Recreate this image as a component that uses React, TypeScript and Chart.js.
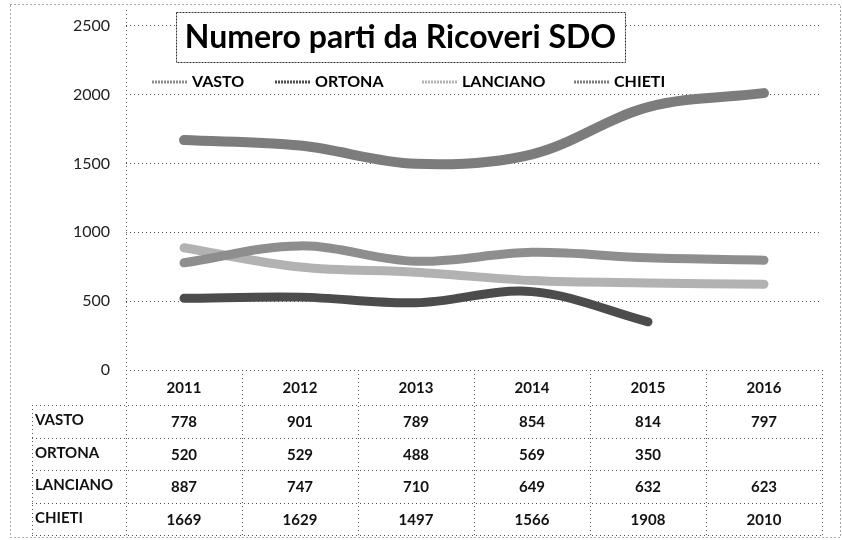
import React, { useEffect, useRef } from "react";
import { Chart, registerables } from "chart.js";

Chart.register(...registerables);

const years = ["2011", "2012", "2013", "2014", "2015", "2016"];
const seriesNames = ["VASTO", "ORTONA", "LANCIANO", "CHIETI"];
const vasto = [778, 901, 789, 854, 814, 797];
const ortona: (number | null)[] = [520, 529, 488, 569, 350, null];
const lanciano = [887, 747, 710, 649, 632, 623];
const chieti = [1669, 1629, 1497, 1566, 1908, 2010];
const yTickValues = [0, 500, 1000, 1500, 2000, 2500];
const titleText = "Numero parti da Ricoveri SDO";
const seriesColors = ["#8e8e8e", "#4c4c4c", "#b2b2b2", "#7c7c7c"];
const seriesWidths = [9, 9, 9, 10];
const legendStarts = [152, 275, 422, 574];

const FONT = "Lato, 'Open Sans', 'DejaVu Sans', sans-serif";

function dotted(ctx: CanvasRenderingContext2D, x1: number, y1: number, x2: number, y2: number, dash = [1, 3], color = "#555") {
  ctx.save();
  ctx.strokeStyle = color;
  ctx.lineWidth = 1;
  ctx.setLineDash(dash);
  ctx.beginPath();
  ctx.moveTo(x1, y1);
  ctx.lineTo(x2, y2);
  ctx.stroke();
  ctx.restore();
}

const decorPlugin = {
  id: "decor",
  afterDraw(chart: any) {
    const ctx: CanvasRenderingContext2D = chart.ctx;
    const area = chart.chartArea;
    const xs = chart.scales.x;
    const n = years.length;
    const colW = (area.right - area.left) / n;

    // axis line (dotted), extending into the table
    dotted(ctx, Math.round(area.left) + 0.5, 10, Math.round(area.left) + 0.5, 536);

    // title box
    const bx = 176, by = 12, bw = 449, bh = 50;
    ctx.save();
    ctx.fillStyle = "#fff";
    ctx.fillRect(bx, by, bw, bh);
    ctx.restore();
    ctx.save();
    ctx.strokeStyle = "#333";
    ctx.lineWidth = 1;
    ctx.setLineDash([2, 1]);
    ctx.strokeRect(bx + 0.5, by + 0.5, bw, bh);
    ctx.restore();
    ctx.save();
    let size = 34;
    ctx.font = `bold ${size}px ${FONT}`;
    while (ctx.measureText(titleText).width > 432 && size > 10) {
      size -= 0.5;
      ctx.font = `bold ${size}px ${FONT}`;
    }
    ctx.fillStyle = "#000";
    ctx.textAlign = "center";
    ctx.textBaseline = "middle";
    ctx.fillText(titleText, bx + bw / 2, by + bh / 2 + 1);
    ctx.restore();

    // legend
    ctx.save();
    ctx.font = `bold 16px ${FONT}`;
    ctx.textBaseline = "middle";
    ctx.textAlign = "left";
    const ly = 82;
    chart.data.datasets.forEach((ds: any, i: number) => {
      const lx = legendStarts[i];
      ctx.save();
      ctx.strokeStyle = ds.borderColor;
      ctx.lineWidth = 3;
      ctx.setLineDash([2, 1]);
      ctx.beginPath();
      ctx.moveTo(lx, ly);
      ctx.lineTo(lx + 36, ly);
      ctx.stroke();
      ctx.restore();
      ctx.fillStyle = "#000";
      ctx.fillText(ds.label, lx + 40, ly);
    });
    ctx.restore();

    // data table
    const top = Math.round(area.bottom);
    const headerH = 35;
    const rowH = 32.5;
    const tableBottom = top + headerH + rowH * seriesNames.length;
    const labelLeft = 32;
    for (let r = 0; r <= seriesNames.length; r++) {
      const y = Math.round(top + headerH + rowH * r) + 0.5;
      dotted(ctx, labelLeft, y, area.right, y);
    }
    for (let i = 1; i <= n; i++) {
      const x = Math.round(xs.getPixelForValue(i - 1) + colW / 2) + 0.5;
      dotted(ctx, x, top, x, tableBottom);
    }
    dotted(ctx, labelLeft + 0.5, top + headerH, labelLeft + 0.5, tableBottom);

    ctx.save();
    ctx.font = `bold 15px ${FONT}`;
    ctx.fillStyle = "#111";
    ctx.textBaseline = "middle";
    ctx.textAlign = "center";
    years.forEach((yr, i) => {
      ctx.fillText(yr, xs.getPixelForValue(i), top + headerH / 2 + 1);
    });
    chart.data.datasets.forEach((ds: any, r: number) => {
      const cy = top + headerH + rowH * r + rowH / 2 + 1;
      ctx.textAlign = "left";
      ctx.fillText(ds.label, labelLeft + 3, cy - 2);
      ctx.textAlign = "center";
      ds.data.forEach((v: number | null, i: number) => {
        if (v === null || v === undefined) return;
        ctx.fillText(String(v), xs.getPixelForValue(i), cy);
      });
    });
    ctx.restore();

    // outer border
    ctx.save();
    ctx.strokeStyle = "#555";
    ctx.lineWidth = 1;
    ctx.setLineDash([1, 3]);
    ctx.strokeRect(10.5, 4.5, 830, 533);
    ctx.restore();
  },
};

export default function App() {
  const ref = useRef<HTMLCanvasElement | null>(null);
  useEffect(() => {
    document.body.style.margin = "0";
    const canvas = ref.current;
    if (!canvas) return;
    const allSeries = [vasto, ortona, lanciano, chieti];
    const chart = new Chart(canvas, {
      type: "line",
      data: {
        labels: years,
        datasets: seriesNames.map((name, i) => ({
          label: name,
          data: allSeries[i],
          borderColor: seriesColors[i],
          backgroundColor: seriesColors[i],
          borderWidth: seriesWidths[i],
          pointRadius: 0,
          tension: 0.35,
          fill: false,
          spanGaps: false,
          borderCapStyle: "round" as const,
        })),
      },
      options: {
        responsive: false,
        animation: false,
        devicePixelRatio: 1,
        layout: { padding: { left: 0, right: 20, top: 25, bottom: 170 } },
        plugins: {
          legend: { display: false },
          title: { display: false },
          tooltip: { enabled: false },
        },
        scales: {
          x: {
            type: "category",
            offset: true,
            display: false,
          },
          y: {
            min: 0,
            max: 2500,
            afterFit: (s: any) => {
              s.width = 126;
            },
            afterBuildTicks: (s: any) => {
              s.ticks = yTickValues.map((v) => ({ value: v }));
            },
            ticks: {
              color: "#222",
              padding: 16,
              font: { family: FONT, size: 16 },
              callback: (v: any) => String(v),
            },
            grid: {
              color: "#555",
              lineWidth: 1,
              drawTicks: false,
            },
            border: { display: false, dash: [1, 3] },
          },
        },
      },
      plugins: [decorPlugin],
    });
    return () => chart.destroy();
  }, []);
  return <canvas ref={ref} width={842} height={540} style={{ display: "block" }} />;
}
